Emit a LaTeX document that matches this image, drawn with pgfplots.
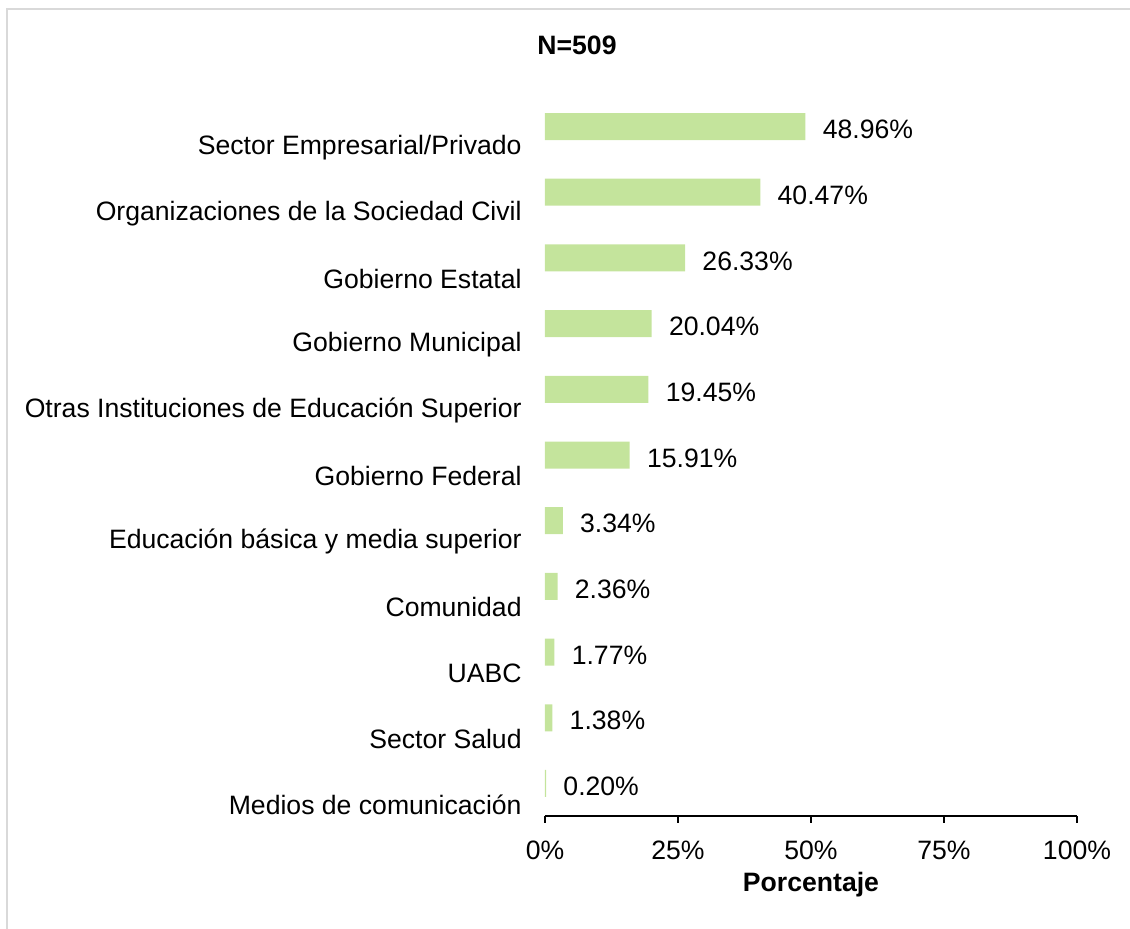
\documentclass[border=0pt]{standalone}
\usepackage{fontspec}
\setmainfont{Liberation Sans}
\usepackage{pgfplots}
\pgfplotsset{compat=1.18}
\definecolor{barverde}{RGB}{196,228,156}
\definecolor{marco}{RGB}{217,217,217}
\newcommand{\fs}{\fontsize{13.3}{15.9}\selectfont}
\begin{document}
\fs
\begin{tikzpicture}
\path[use as bounding box] (0,0) rectangle (565pt,464.5pt);
% marco gris (solo arriba e izquierda)
\draw[marco, line width=1pt] (3.25pt,-1pt) -- (3.25pt,459.75pt) -- (566pt,459.75pt);
\node[font=\fs\bfseries] at (288.5pt,442pt) {N=509};
\begin{axis}[
    at={(272.5pt,56.5pt)}, anchor=south west,
    scale only axis, width=266pt, height=361.15pt,
    xmin=0, xmax=100, ymin=-0.495, ymax=10.5,
    axis x line=bottom, axis y line=left,
    axis line style={-},
    x axis line style={black, line width=0.6pt},
    y axis line style={draw=none},
    xbar, bar width=13.5pt,
    xtick={0,25,50,75,100},
    xticklabel={\pgfmathprintnumber{\tick}\%},
    /pgf/number format/assume math mode=true,
    tick align=outside, major tick length=3.5pt,
    xtick style={black, line width=0.6pt},
    ytick style={draw=none},
    xticklabel style={font=\fs, inner sep=0pt, yshift=-9pt},
    ytick={0,...,10},
    yticklabels={Medios de comunicación, Sector Salud, UABC, Comunidad,
        Educación básica y media superior, Gobierno Federal,
        Otras Instituciones de Educación Superior, Gobierno Municipal,
        Gobierno Estatal, Organizaciones de la Sociedad Civil,
        Sector Empresarial/Privado},
    yticklabel style={font=\fs, anchor=east, inner sep=0pt, xshift=-8pt, yshift=-10.5pt},
    xlabel={Porcentaje},
    xlabel style={at={(rel axis cs:0.5,0)}, anchor=center, yshift=-34.5pt, font=\fs\bfseries},
    point meta=x,
    nodes near coords={\pgfmathprintnumber[fixed,fixed zerofill,precision=2]{\pgfplotspointmeta}\%},
    nodes near coords align=horizontal,
    every node near coord/.append style={font=\fs, anchor=west, inner sep=0pt, xshift=8.5pt, yshift=-1.5pt, black},
]
\addplot[fill=barverde, draw=none] coordinates {
    (0.20,0) (1.38,1) (1.77,2) (2.36,3) (3.34,4) (15.91,5)
    (19.45,6) (20.04,7) (26.33,8) (40.47,9) (48.96,10)
};
\end{axis}
\end{tikzpicture}
\end{document}
